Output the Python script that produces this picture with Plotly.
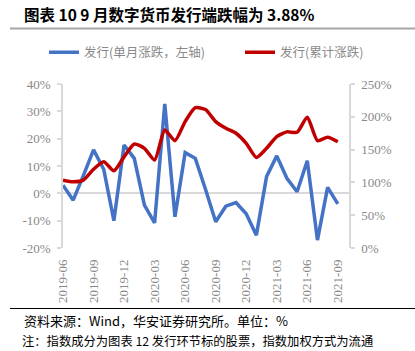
import plotly.graph_objects as go

months = ["2019-06", "2019-07", "2019-08", "2019-09", "2019-10", "2019-11", "2019-12",
          "2020-01", "2020-02", "2020-03", "2020-04", "2020-05", "2020-06", "2020-07",
          "2020-08", "2020-09", "2020-10", "2020-11", "2020-12", "2021-01", "2021-02",
          "2021-03", "2021-04", "2021-05", "2021-06", "2021-07", "2021-08", "2021-09"]

monthly_change = [3.0, -2.5, 6.5, 15.9, 8.8, -10.0, 17.7, 12.8, -4.3, -10.8, 32.7, -8.6,
                  14.9, 12.8, 1.5, -10.4, -4.7, -3.4, -7.5, -15.3, 6.1, 13.7, 5.5, 0.6,
                  11.9, -17.1, 2.2, -3.88]

cumulative_change = [103.5, 101.0, 103.5, 120.0, 131.5, 117.7, 139.0, 158.6, 152.0, 134.0,
                     180.0, 163.6, 192.7, 214.0, 211.0, 192.7, 182.6, 175.0, 159.6, 138.0,
                     152.0, 169.7, 177.0, 176.5, 199.4, 163.6, 168.8, 162.0]

tick_months = months[::3]

left_ticks = [-20, -10, 0, 10, 20, 30, 40]
right_ticks = [0, 50, 100, 150, 200, 250]

GRAY = "#898989"
AXIS = "#d9d9d9"
SERIF = "Liberation Serif, Times New Roman, serif"
CJK = "Noto Sans CJK SC"

PW = 286.0   # plot width in px
PH = 163.4   # plot height in px
L = 63.0
T = 84.3


def px_x(x):
    return (x - L) / PW


def px_y(y):
    return 1 - (y - T) / PH


fig = go.Figure()
fig.add_trace(go.Scatter(
    x=months, y=monthly_change, name="发行(单月涨跌，左轴)", mode="lines",
    line=dict(color="#4472C4", width=3.5), yaxis="y", legend="legend"))
fig.add_trace(go.Scatter(
    x=months, y=cumulative_change, name="发行(累计涨跌)", mode="lines",
    line=dict(color="#C00000", width=3.5, shape="spline", smoothing=0.6), yaxis="y2",
    legend="legend2"))

legend_font = dict(family=CJK, size=12.5, color=GRAY)

fig.update_layout(
    width=415, height=351,
    margin=dict(l=63, r=66, t=84, b=103),
    paper_bgcolor="white", plot_bgcolor="white",
    showlegend=True,
    legend=dict(orientation="h", x=px_x(44), y=px_y(53), xanchor="left", yanchor="middle",
                font=legend_font, itemwidth=30, bgcolor="rgba(0,0,0,0)"),
    legend2=dict(orientation="h", x=px_x(240), y=px_y(53), xanchor="left", yanchor="middle",
                 font=legend_font, itemwidth=30, bgcolor="rgba(0,0,0,0)"),
    xaxis=dict(type="category", range=[0, 28.1], tickmode="array",
               tickvals=tick_months, ticktext=tick_months, tickangle=-90,
               tickfont=dict(family=SERIF, size=13, color=GRAY),
               ticklabelstandoff=8,
               showgrid=False, zeroline=False, showline=False, ticks=""),
    yaxis=dict(range=[-20, 40], tickvals=left_ticks,
               ticktext=[f"{v}%" for v in left_ticks],
               tickfont=dict(family=SERIF, size=13, color=GRAY),
               ticklabelstandoff=4,
               showgrid=False, zeroline=True, zerolinecolor=AXIS, zerolinewidth=1.5,
               showline=True, linecolor=AXIS, linewidth=1.5,
               ticks="outside", ticklen=4, tickcolor=AXIS, tickwidth=1.5),
    yaxis2=dict(range=[0, 250], tickvals=right_ticks,
                ticktext=[f"{v}%" for v in right_ticks],
                overlaying="y", side="right",
                tickfont=dict(family=SERIF, size=13, color=GRAY),
                ticklabelstandoff=4,
                showgrid=False, zeroline=False,
                showline=True, linecolor=AXIS, linewidth=1.5,
                ticks="outside", ticklen=4, tickcolor=AXIS, tickwidth=1.5),
    annotations=[
        dict(text="<b>图表 10 9 月数字货币发行端跌幅为 3.88%</b>", xref="paper", yref="paper",
             x=px_x(22), y=px_y(15), xanchor="left", yanchor="middle",
             showarrow=False, font=dict(family=CJK, size=15.5, color="black")),
        dict(text="资料来源：Wind，华安证券研究所。单位：%", xref="paper", yref="paper",
             x=px_x(22), y=px_y(320), xanchor="left", yanchor="middle",
             showarrow=False, font=dict(family=CJK, size=13, color="black")),
        dict(text="注：指数成分为图表 12 发行环节标的股票，指数加权方式为流通", xref="paper", yref="paper",
             x=px_x(20), y=px_y(340), xanchor="left", yanchor="middle",
             showarrow=False, font=dict(family=CJK, size=12.3, color="black")),
    ],
    shapes=[
        dict(type="line", xref="paper", yref="paper",
             x0=px_x(10), x1=px_x(415), y0=px_y(29), y1=px_y(29),
             line=dict(color="#a6a6a6", width=2)),
        dict(type="line", xref="paper", yref="paper",
             x0=px_x(10), x1=px_x(415), y0=px_y(308), y1=px_y(308),
             line=dict(color="black", width=1.2)),
    ],
)

fig.write_html("out.html")
